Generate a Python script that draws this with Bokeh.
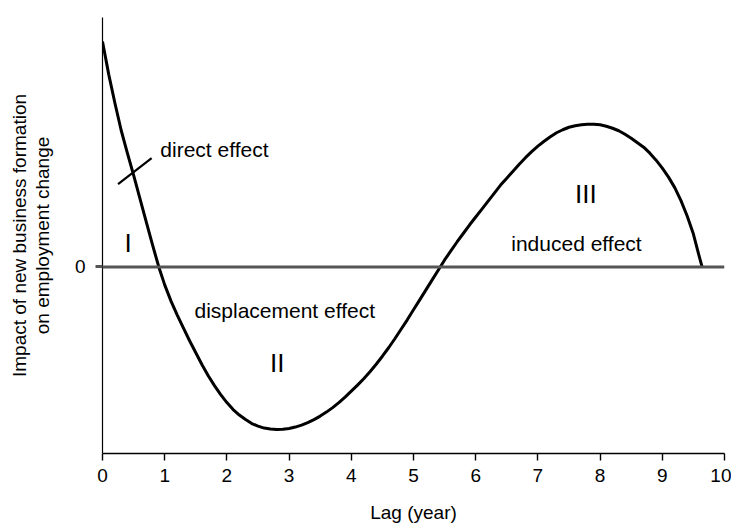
from bokeh.plotting import figure
from bokeh.models import Range1d, FixedTicker, Span, Label
from bokeh.embed import file_html
from bokeh.resources import INLINE

# Curve: lag (years) vs. impact (arbitrary units)
lag = [0.0, 0.1, 0.2, 0.3, 0.4, 0.5, 0.6, 0.7, 0.8, 0.905,
       1.0, 1.1, 1.2, 1.3, 1.4, 1.5, 1.6, 1.7, 1.8, 1.9,
       2.0, 2.1, 2.2, 2.3, 2.4, 2.5, 2.6, 2.7, 2.8, 2.9,
       3.0, 3.1, 3.2, 3.3, 3.4, 3.5, 3.6, 3.7, 3.8, 3.9,
       4.0, 4.1, 4.2, 4.3, 4.4, 4.5, 4.6, 4.7, 4.8, 4.9,
       5.0, 5.1, 5.2, 5.3, 5.43, 5.5, 5.6, 5.7, 5.8, 5.9,
       6.0, 6.1, 6.2, 6.3, 6.4, 6.5, 6.6, 6.7, 6.8, 6.9,
       7.0, 7.1, 7.2, 7.3, 7.4, 7.5, 7.6, 7.7, 7.8, 7.9,
       8.0, 8.1, 8.2, 8.3, 8.4, 8.5, 8.6, 8.7, 8.8, 8.9,
       9.0, 9.1, 9.2, 9.3, 9.4, 9.5, 9.6, 9.64]
impact = [2.26, 1.93, 1.64, 1.37, 1.14, 0.92, 0.69, 0.46, 0.23, 0.0,
          -0.18, -0.34, -0.48, -0.61, -0.74, -0.86, -0.98, -1.09, -1.19, -1.28,
          -1.36, -1.43, -1.485, -1.53, -1.57, -1.595, -1.615, -1.625, -1.63, -1.628,
          -1.62, -1.605, -1.585, -1.56, -1.53, -1.495, -1.455, -1.41, -1.36, -1.305,
          -1.245, -1.185, -1.12, -1.05, -0.975, -0.895, -0.81, -0.72, -0.625, -0.53,
          -0.43, -0.33, -0.23, -0.13, 0.0, 0.07, 0.16, 0.25, 0.335, 0.42,
          0.50, 0.58, 0.66, 0.74, 0.82, 0.89, 0.96, 1.03, 1.095, 1.155,
          1.21, 1.26, 1.305, 1.345, 1.375, 1.40, 1.415, 1.425, 1.43, 1.43,
          1.425, 1.41, 1.39, 1.365, 1.33, 1.29, 1.245, 1.20, 1.14, 1.07,
          0.99, 0.90, 0.795, 0.665, 0.51, 0.33, 0.09, 0.0]

x_ticks = [0, 1, 2, 3, 4, 5, 6, 7, 8, 9, 10]
y_ticks = [0]

# leader mark for "direct effect"
direct_mark_x = [0.25, 0.79]
direct_mark_y = [0.83, 1.09]

FONT = "Liberation Sans"

p = figure(width=731, height=525, output_backend="svg", toolbar_location=None,
           x_range=Range1d(0, 10), y_range=Range1d(-1.87, 2.50),
           min_border_left=102, min_border_right=7, min_border_top=17, min_border_bottom=71)
p.outline_line_color = None
p.grid.visible = False
p.background_fill_color = "white"

zero = Span(location=0, dimension="width", line_color="#555555", line_width=3)
p.add_layout(zero)

p.line(lag, impact, line_color="black", line_width=3, line_join="round")
p.line(direct_mark_x, direct_mark_y, line_color="black", line_width=2.2)

# x axis
xa = p.xaxis[0]
xa.ticker = FixedTicker(ticks=x_ticks)
xa.axis_line_color = "black"
xa.axis_line_width = 1.6
xa.major_tick_line_color = "black"
xa.major_tick_line_width = 1.4
xa.major_tick_out = 7
xa.major_tick_in = 0
xa.minor_tick_line_color = None
xa.major_label_text_font = FONT
xa.major_label_text_font_size = "19px"
xa.major_label_text_color = "black"
xa.major_label_standoff = 8
xa.axis_label = "Lag (year)"
xa.axis_label_text_font = FONT
xa.axis_label_text_font_size = "19px"
xa.axis_label_text_font_style = "normal"
xa.axis_label_text_color = "black"
xa.axis_label_standoff = 17

# y axis
ya = p.yaxis[0]
ya.ticker = FixedTicker(ticks=y_ticks)
ya.axis_line_color = "black"
ya.axis_line_width = 1.2
ya.major_tick_line_color = "#555555"
ya.major_tick_line_width = 3
ya.major_tick_out = 7
ya.major_tick_in = 0
ya.minor_tick_line_color = None
ya.major_label_text_font = FONT
ya.major_label_text_font_size = "19px"
ya.major_label_text_color = "black"
ya.major_label_standoff = 10
ya.axis_label = "Impact of new business formation\non employment change"
ya.axis_label_text_font = FONT
ya.axis_label_text_font_size = "19px"
ya.axis_label_text_font_style = "normal"
ya.axis_label_text_color = "black"
ya.axis_label_text_line_height = 1.1
ya.axis_label_standoff = 19

def add_text(x, y, s, size, align="center"):
    p.add_layout(Label(x=x, y=y, text=s, text_font=FONT, text_font_size=size,
                       text_align=align, text_baseline="alphabetic",
                       text_color="black"))

add_text(0.93, 1.18, "direct effect", "21px", "left")
add_text(2.93, -0.44, "displacement effect", "21px")
add_text(7.62, 0.23, "induced effect", "21px")
add_text(0.41, 0.237, "I", "26px")
add_text(2.81, -0.963, "II", "26px")
add_text(7.77, 0.73, "III", "26px")

open("out.html", "w").write(file_html(p, INLINE))
